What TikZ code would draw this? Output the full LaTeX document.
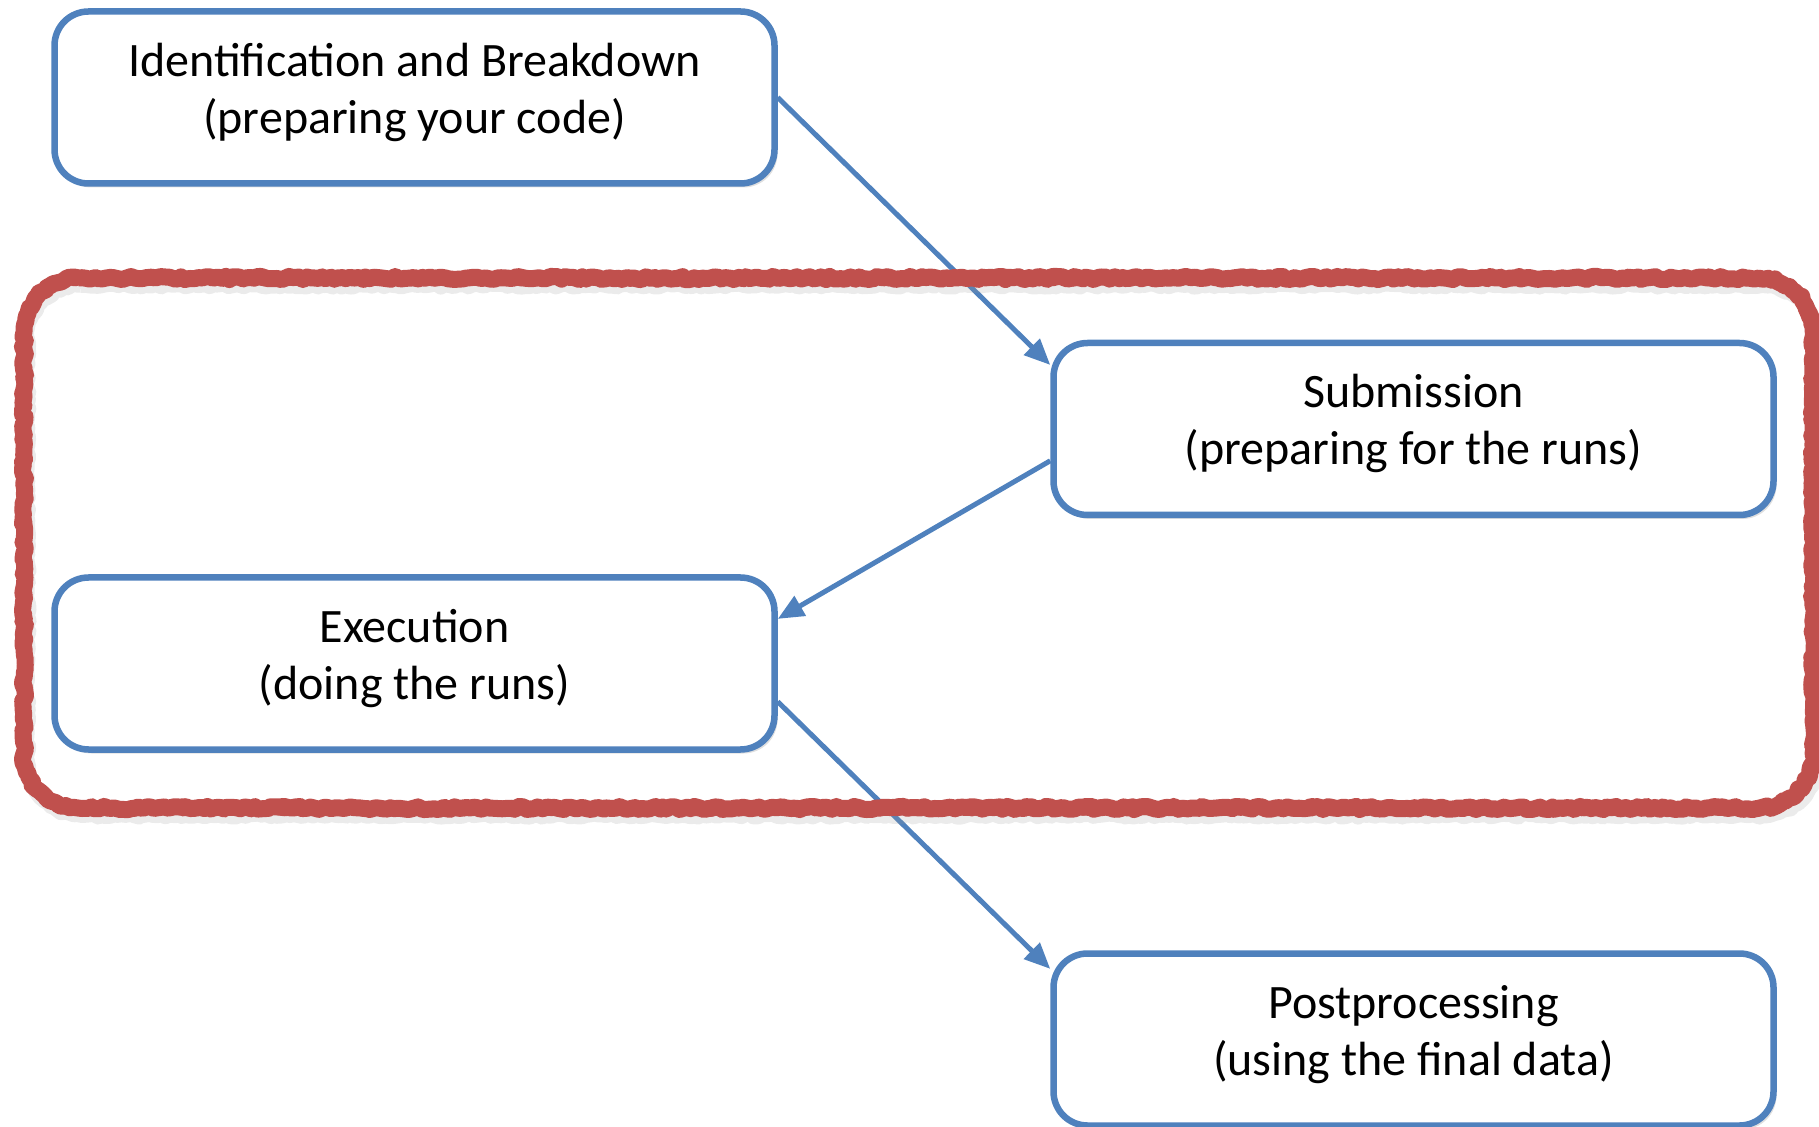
\documentclass[tikz,border=0pt]{standalone}
\usepackage{fontspec}
\setmainfont{Carlito}
\usetikzlibrary{arrows.meta,shadows,decorations.pathmorphing}

\definecolor{boxblue}{HTML}{4F81BD}
\definecolor{framered}{HTML}{C0504D}

\tikzset{
  stage/.style={draw=boxblue, line width=3.25pt, rounded corners=17pt, fill=white,
    minimum width=360pt, minimum height=86pt, align=center, text depth=9.5pt,
    font=\fontsize{24}{28.5}\selectfont,
    drop shadow={shadow xshift=1.5pt, shadow yshift=-2pt, opacity=0.25}},
  flow/.style={draw=boxblue, line width=2.5pt, -{Triangle[length=13pt,width=11pt]}},
  rough/.style={decorate, decoration={random steps, segment length=2pt, amplitude=0.8pt}},
}

\newcommand{\loopframe}{%
  (78,278) -- (1759,278) arc[start angle=-90, end angle=0, radius=54]
  -- (1813,754) arc[start angle=0, end angle=90, radius=54]
  -- (78,808) arc[start angle=90, end angle=180, radius=54]
  -- (24,332) arc[start angle=180, end angle=270, radius=54] -- cycle}

\begin{document}
\begin{tikzpicture}[x=0.5pt, y=-0.5pt, line join=round]
\pgfmathsetseed{11}
\useasboundingbox (0,0) rectangle (1819,1127);

\node (ident) at (414.5, 97.5) [stage] {Identification and Breakdown\\(preparing your code)};
\node (subm) at (1413.5, 429) [stage] {Submission\\(preparing for the runs)};
\node (exec) at (414.5, 663.5) [stage] {Execution\\(doing the runs)};
\node (post) at (1413.5, 1039.5) [stage] {Postprocessing\\(using the final data)};

\draw[flow] (ident.east) -- (subm.170);
\draw[flow] (subm.185) -- (exec.7);
\draw[flow] (exec.-6) -- (post.169);

% the loop around submission and execution
\draw[black!40, opacity=0.2, line width=8pt, rough, shift={(3,7)}] \loopframe;
\draw[framered, line width=8.5pt, rough] \loopframe;
\draw[framered, line width=6pt, rough, shift={(1,1)}] \loopframe;

\end{tikzpicture}
\end{document}
